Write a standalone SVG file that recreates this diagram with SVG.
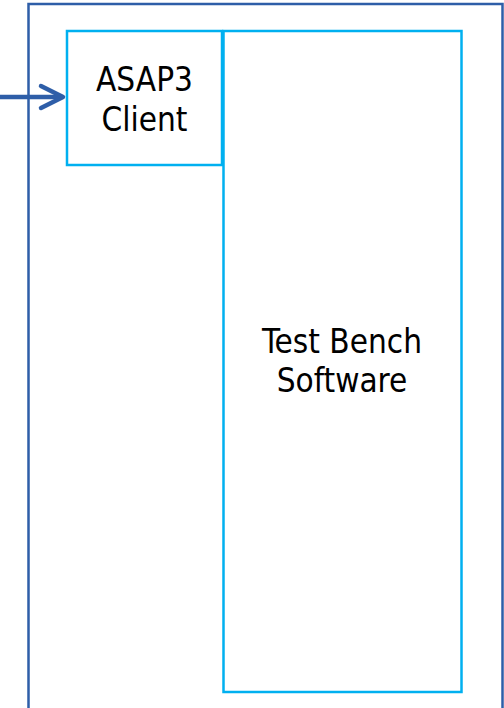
<svg xmlns="http://www.w3.org/2000/svg" width="504" height="708" viewBox="0 0 504 708">
<style>
.frame{fill:#fff;stroke:#2E5EA8;stroke-width:2.5}
.box{fill:#fff;stroke:#00B0F0;stroke-width:2.5}
.lbl{font-family:"DejaVu Sans Condensed","DejaVu Sans",sans-serif;font-stretch:condensed;font-size:33px;fill:#000;text-anchor:middle}
.conn{fill:none;stroke:#2E5EA8;stroke-width:4.5;stroke-linecap:round;stroke-linejoin:round}
</style>
<g id="frame"><rect class="frame" x="28.5" y="4" width="474" height="720"/></g>
<g id="asap3-client"><rect class="box" x="67" y="31" width="155" height="134"/><text class="lbl" x="144.5" y="91">ASAP3</text><text class="lbl" x="144.5" y="131">Client</text></g>
<g id="test-bench-software"><rect class="box" x="223.5" y="31" width="238" height="661"/><text class="lbl" x="342" y="353">Test Bench</text><text class="lbl" x="342" y="392">Software</text></g>
<g id="connectors"><path class="conn" d="M0 97 H62"/><path class="conn" d="M41 86 L63 97 L41 108"/></g>
</svg>
